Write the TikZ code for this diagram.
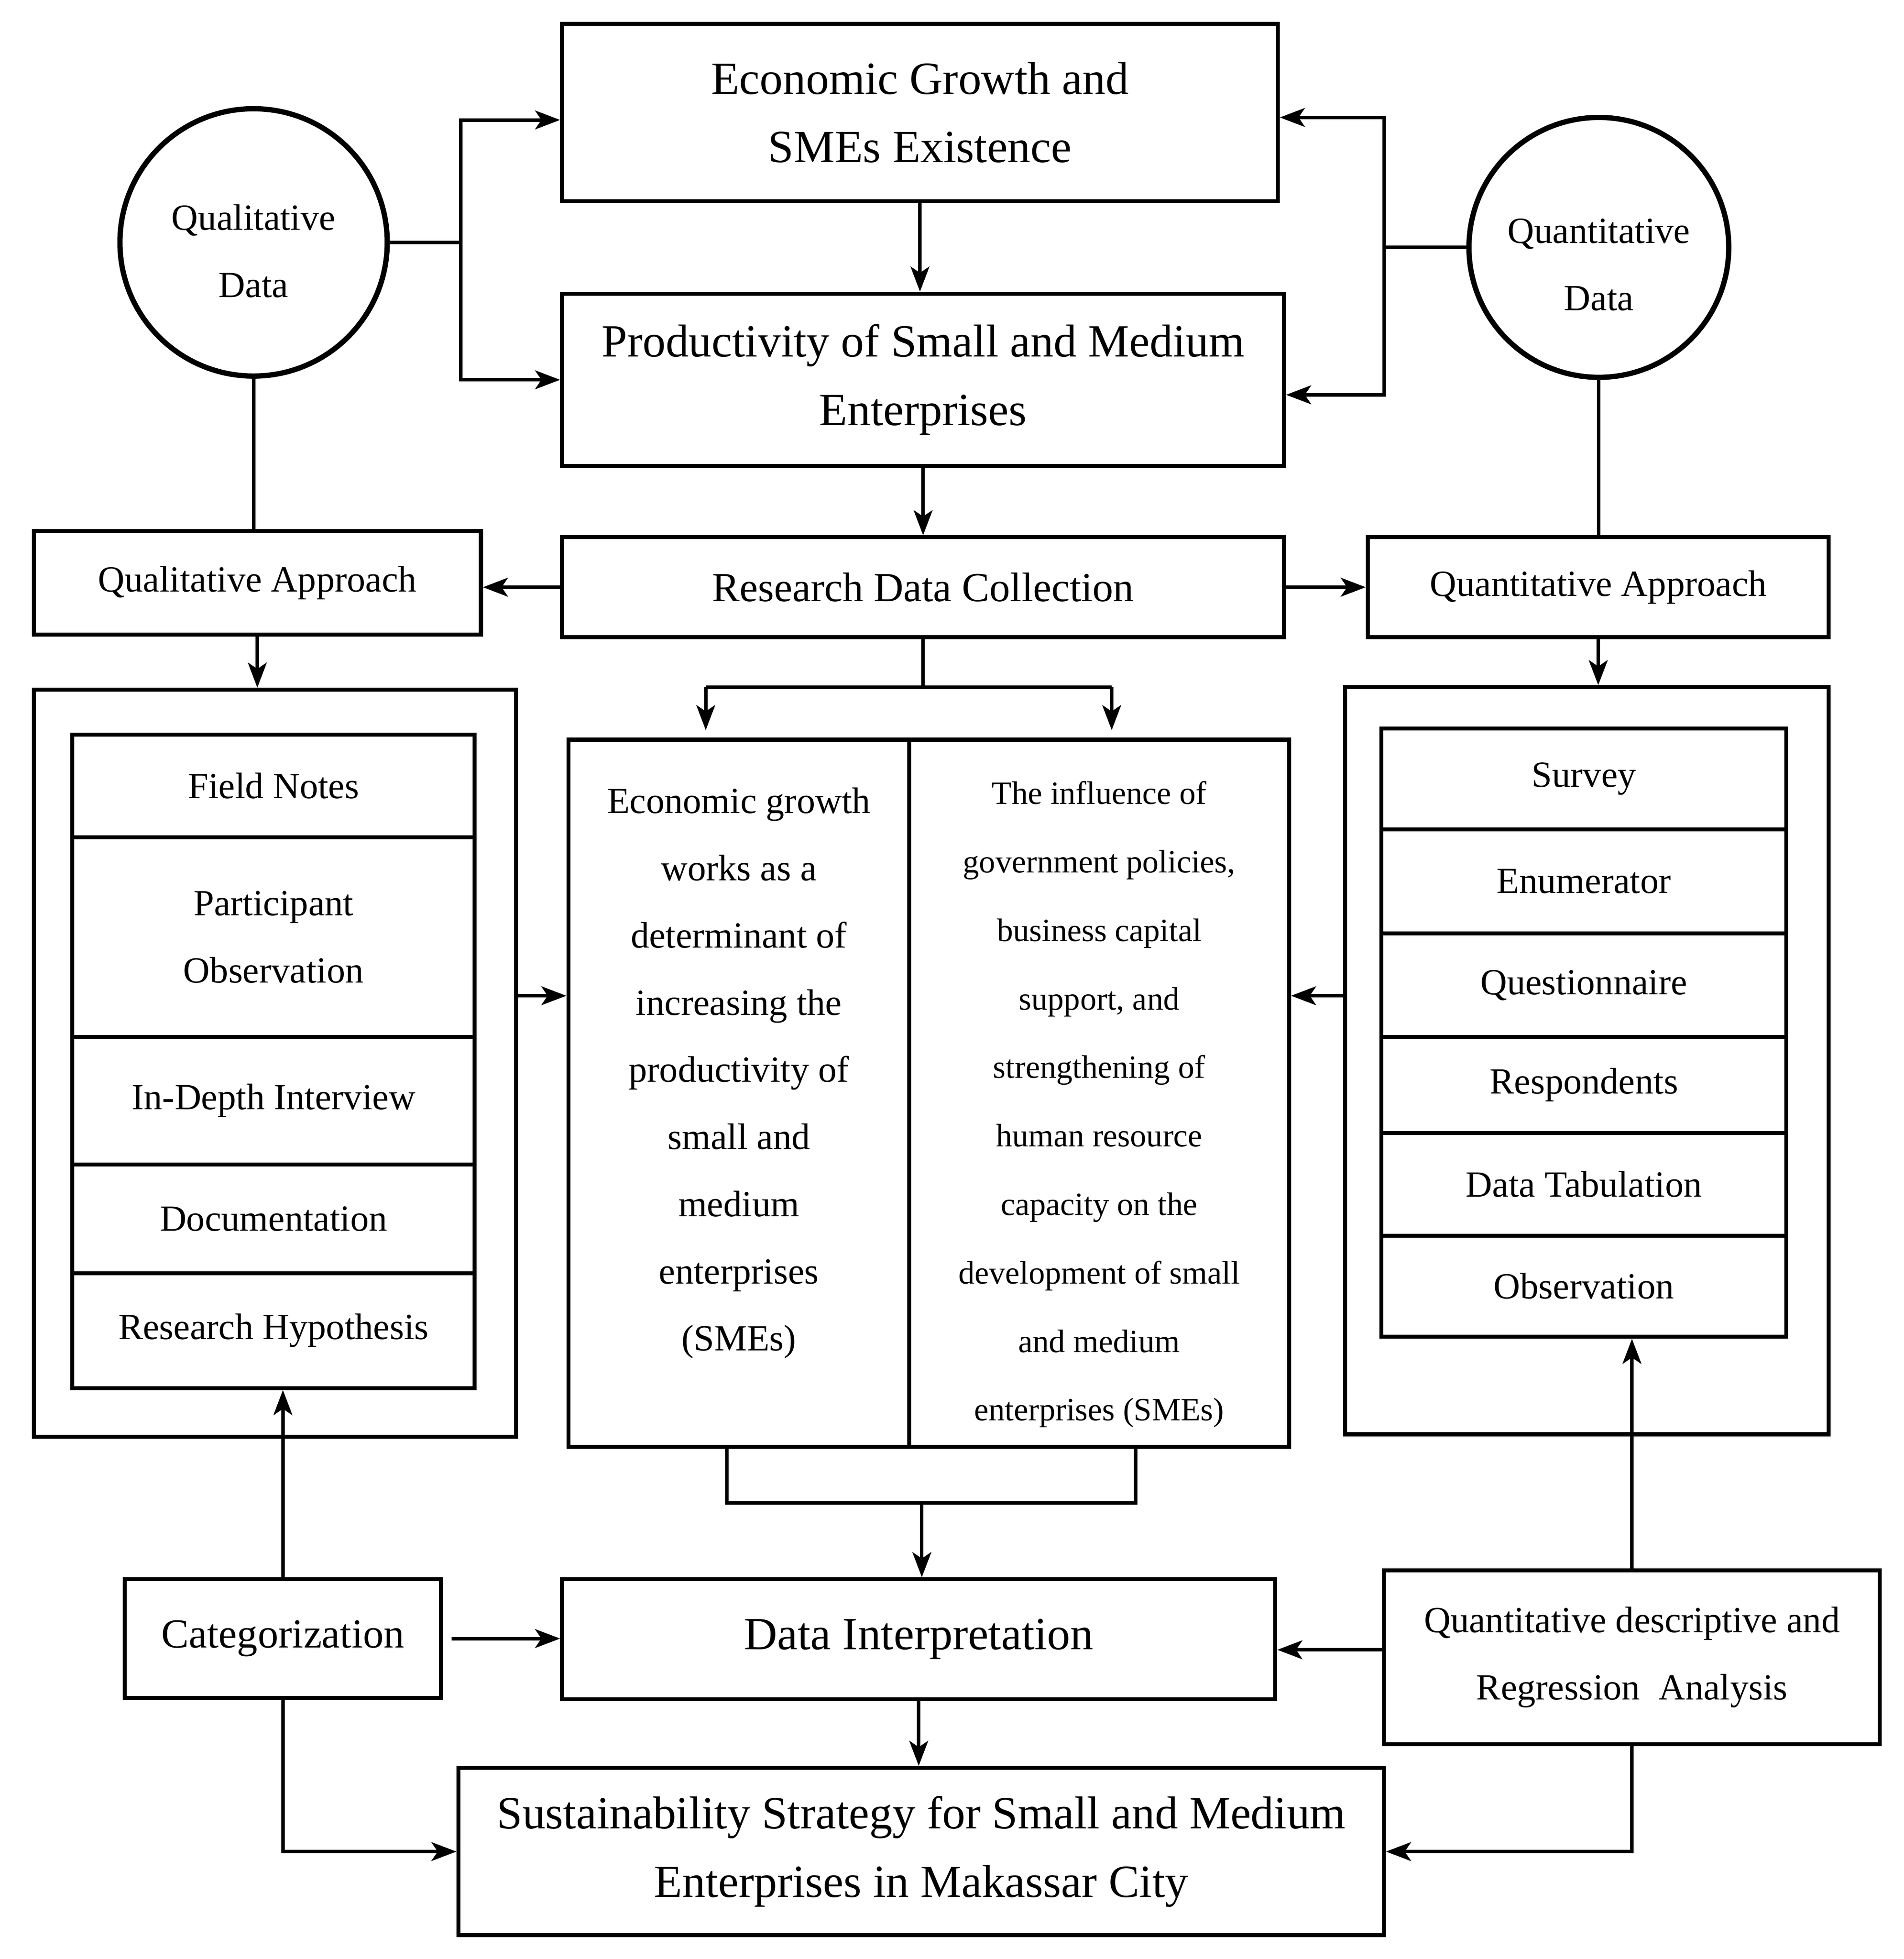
\documentclass[tikz,border=0pt]{standalone}
\usepackage{fontspec}
\setmainfont{Liberation Serif}
\usetikzlibrary{arrows.meta,fit,calc}

\tikzset{
  box/.style={draw, line width=0.9pt, inner sep=0pt},
  ring/.style={draw, circle, line width=1.2pt, inner sep=0pt},
  link/.style={line width=0.8pt},
  arr/.style={line width=0.8pt, -{Stealth[length=2mm,width=1.5mm,inset=0.5mm]}},
  big/.style={align=center, font=\fontsize{10.5}{15.6}\selectfont},
  mid/.style={align=center, font=\fontsize{9.4}{15.6}\selectfont},
  txt/.style={align=center, font=\fontsize{8.4}{15.3}\selectfont},
  small/.style={align=center, font=\fontsize{7.4}{15.6}\selectfont}
}

\begin{document}
\begin{tikzpicture}[x=0.1mm,y=-0.1mm]
\useasboundingbox (0,0) rectangle (1524,1568);

% upper part
\node[box,fit={(450,19) (1023,161)},label={[big]center:{Economic Growth and\\SMEs Existence}}] (growth) {};
\node[box,fit={(450,235) (1028,373)},label={[big]center:{Productivity of Small and Medium\\Enterprises}}] (prod) {};
\node[ring,minimum size=21.4mm,label={[txt,yshift=-0.7mm]center:{Qualitative\\Data}}] (qldata) at (203,194) {};
\node[ring,minimum size=20.8mm,label={[txt,yshift=-1.4mm]center:{Quantitative\\Data}}] (qndata) at (1280,198) {};
\node[box,fit={(450,430) (1028,510)},label={[mid]center:{Research Data Collection}}] (collect) {};
\node[box,fit={(27,425) (385,508)},label={[txt]center:{Qualitative Approach}}] (qlappr) {};
\node[box,fit={(1095,430) (1464,510)},label={[txt]center:{Quantitative Approach}}] (qnappr) {};

\coordinate (qlsplit) at (369,194);
\coordinate (qnsplit) at (1108,198);
\draw[link] (qldata.east) -- (qlsplit);
\draw[arr] (qlsplit) |- ([yshift=-0.6mm]growth.west);
\draw[arr] (qlsplit) |- (prod.west);
\draw[link] (qndata.west) -- (qnsplit);
\draw[arr] (qnsplit) |- ([yshift=-0.4mm]growth.east);
\draw[arr] (qnsplit) |- ([yshift=-1.2mm]prod.east);
\draw[arr] (growth.south) -- (growth.south |- prod.north);
\draw[arr] (prod.south) -- (prod.south |- collect.north);
\draw[arr] (collect.west) -- (collect.west -| qlappr.east);
\draw[arr] (collect.east) -- (collect.east -| qnappr.west);
\draw[link] (qldata.south) -- (qldata.south |- qlappr.north);
\draw[link] (qndata.south) -- (qndata.south |- qnappr.north);

% qualitative side
\node[box,fit={(27,552) (413,1150)}] (qlouter) {};
\foreach \nm/\ya/\yb/\lbl in {fnotes/588/670/{Field Notes},
    pobs/670/830/{Participant\\Observation},
    depth/830/932/{In-Depth Interview},
    docu/932/1019/{Documentation},
    hypo/1019/1111/{Research Hypothesis}}
  \node[box,fit={(58,\ya) (380,\yb)},label={[txt]center:{\lbl}}] (\nm) {};

% quantitative side
\node[box,fit={(1077,550) (1464,1148)}] (qnouter) {};
\foreach \nm/\ya/\yb/\lbl in {survey/583/664/{Survey},
    enum/664/747/{Enumerator},
    quest/747/830/{Questionnaire},
    resp/830/907/{Respondents},
    tabul/907/989/{Data Tabulation},
    robs/989/1070/{Observation}}
  \node[box,fit={(1106,\ya) (1430,\yb)},label={[txt]center:{\lbl}}] (\nm) {};

\draw[arr] (qlappr.south) -- (qlappr.south |- qlouter.north);
\draw[arr] (qnappr.south) -- (qnappr.south |- qnouter.north);

% middle columns
\node[box,fit={(455,592) (728,1158)},label={[txt,yshift=1.6mm]center:{Economic growth\\works as a\\determinant of\\increasing the\\productivity of\\small and\\medium\\enterprises\\(SMEs)}}] (midL) {};
\node[box,fit={(728,592) (1032,1158)},label={[small,yshift=-0.9mm]center:{The influence of\\government policies,\\business capital\\support, and\\strengthening of\\human resource\\capacity on the\\development of small\\and medium\\enterprises (SMEs)}}] (midR) {};

\coordinate (forkL) at (565,550);
\coordinate (forkR) at (890,550);
\draw[link] (collect.south) -- (collect.south |- forkL);
\draw[link] (forkL) -- (forkR);
\draw[arr,shorten >=0.6mm] (forkL) -- (forkL |- midL.north);
\draw[arr,shorten >=0.6mm] (forkR) -- (forkR |- midR.north);

\coordinate (midrow) at (0,797);
\draw[arr] (qlouter.east |- midrow) -- (midL.west |- midrow);
\draw[arr] (qnouter.west |- midrow) -- (midR.east |- midrow);

% lower part
\node[box,fit={(450,1264) (1021,1360)},label={[big]center:{Data Interpretation}}] (interp) {};
\node[box,fit={(100,1264) (353,1359)},label={[mid]center:{Categorization}}] (categ) {};
\node[box,fit={(1108,1257) (1505,1396)},label={[txt]center:{Quantitative descriptive and\\Regression\ \ Analysis}}] (qdesc) {};
\node[box,fit={(367,1415) (1108,1549)},label={[big]center:{Sustainability Strategy for Small and Medium\\Enterprises in Makassar City}}] (sustain) {};

\coordinate (join) at (738,1203);
\draw[link] ($(midL.south west)!0.465!(midL.south east)$) |- (join);
\draw[link] ($(midR.south west)!0.595!(midR.south east)$) |- (join);
\draw[arr] (join) -- (join |- interp.north);
\draw[arr] (categ.north) -- (categ.north |- hypo.south);
\draw[arr,shorten <=0.7mm] (categ.east) -- (categ.east -| interp.west);
\draw[arr] (categ.south) |- (sustain.west);
\draw[arr] (qdesc.north) -- (qdesc.north |- robs.south);
\draw[arr] ([yshift=0.6mm]qdesc.west) -- ([yshift=0.6mm]qdesc.west -| interp.east);
\draw[arr] (qdesc.south) |- (sustain.east);
\draw[arr] (interp.south) -- (interp.south |- sustain.north);
\end{tikzpicture}
\end{document}
